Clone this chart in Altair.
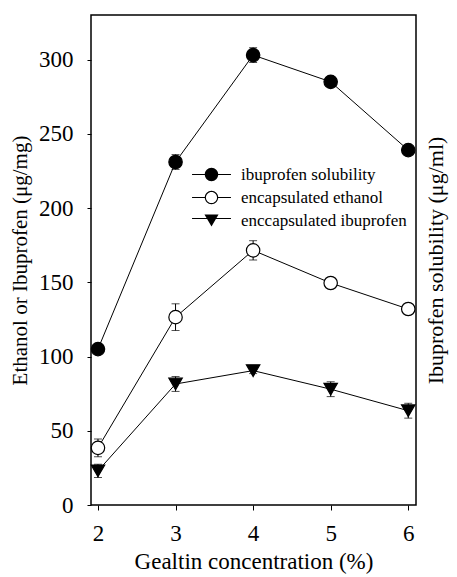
import altair as alt
import pandas as pd

# ---- data ----
conc = [2, 3, 4, 5, 6]
series_names = ["ibuprofen solubility", "encapsulated ethanol", "enccapsulated ibuprofen"]
sol = [105, 231, 303, 285, 239]
sol_err = [2, 5, 5, 2, 2]
eth = [38.5, 126.5, 171.5, 149.5, 132]
eth_err = [6, 9, 6.5, 2, 2]
ibu = [23, 81.5, 90.5, 78, 63.5]
ibu_err = [4.5, 5, 2, 5, 5]
x_ticks = [2, 3, 4, 5, 6]
y_ticks = [0, 50, 100, 150, 200, 250, 300]

rows = []
for name, vals, errs in zip(series_names, [sol, eth, ibu], [sol_err, eth_err, ibu_err]):
    for c, v, e in zip(conc, vals, errs):
        rows.append({"conc": c, "value": v, "lo": v - e, "hi": v + e, "series": name})
df = pd.DataFrame(rows)

FONT = "Liberation Serif"
W, H = 325, 490
xscale = alt.Scale(domain=[1.91, 6.1], nice=False, zero=False)
yscale = alt.Scale(domain=[0, 330], nice=False, zero=False)

base = alt.Chart(df)
x_enc = alt.X("conc:Q", scale=xscale,
              axis=alt.Axis(values=x_ticks, format="d", title="Gealtin concentration (%)",
                            tickSize=5, labelPadding=12, titlePadding=5,
                            labelFont=FONT, titleFont=FONT, labelFontSize=23, titleFontSize=23))
y_enc = alt.Y("value:Q", scale=yscale,
              axis=alt.Axis(values=y_ticks, title="Ethanol or Ibuprofen (\u03bcg/mg)",
                            tickSize=4, labelPadding=14, titlePadding=8,
                            labelFont=FONT, titleFont=FONT, labelFontSize=23, titleFontSize=21))

lines = base.mark_line(color="black", strokeWidth=1).encode(
    x=x_enc, y=y_enc, detail="series:N")
rules = base.mark_rule(color="black", strokeWidth=1).encode(
    x="conc:Q", y="lo:Q", y2="hi:Q")
caps_hi = base.mark_tick(color="black", orient="horizontal", size=8, thickness=1).encode(
    x="conc:Q", y="hi:Q")
caps_lo = base.mark_tick(color="black", orient="horizontal", size=8, thickness=1).encode(
    x="conc:Q", y="lo:Q")

shape_dom = series_names
points = base.mark_point(size=180, stroke="black", strokeWidth=1.2, opacity=1).encode(
    x="conc:Q", y="value:Q",
    shape=alt.Shape("series:N", scale=alt.Scale(domain=shape_dom,
                    range=["circle", "circle", "triangle-down"]), legend=None),
    fill=alt.Fill("series:N", scale=alt.Scale(domain=shape_dom,
                  range=["black", "white", "black"]), legend=None),
)
inner = alt.layer(lines, rules, caps_hi, caps_lo, points)

# legend glyphs drawn as filled outlines (line + marker)
t = 0.08
full_line = f"M -2.9 {-t} L 2.9 {-t} L 2.9 {t} L -2.9 {t} Z "
side_lines = (f"M -2.9 {-t} L -0.95 {-t} L -0.95 {t} L -2.9 {t} Z "
              f"M 0.95 {-t} L 2.9 {-t} L 2.9 {t} L 0.95 {t} Z ")
disc = "M 1 0 A 1 1 0 1 1 -1 0 A 1 1 0 1 1 1 0 Z "
ring_hole = "M 0.83 0 A 0.83 0.83 0 1 0 -0.83 0 A 0.83 0.83 0 1 0 0.83 0 Z"
p_sol = full_line + disc
p_eth = side_lines + disc + ring_hole
p_ibu = f"M -2.9 {-0.3 - t} L 2.9 {-0.3 - t} L 2.9 {-0.3 + t} L -2.9 {-0.3 + t} Z " \
        "M -1.05 -0.9 L 1.05 -0.9 L 0 0.9 Z"

legend_layer = base.transform_filter("false").mark_point(
    size=180, filled=True, color="black", opacity=1, strokeWidth=0).encode(
    x="conc:Q",
    y=alt.Y("value:Q", scale=yscale,
            axis=alt.Axis(orient="right", labels=False, ticks=False, domain=False,
                          title="Ibuprofen solubility (\u03bcg/ml)", titleAngle=270,
                          titlePadding=31, titleFont=FONT, titleFontSize=22)),
    shape=alt.Shape("series:N", scale=alt.Scale(domain=shape_dom, range=[p_sol, p_eth, p_ibu]),
                    legend=alt.Legend(title=None, orient="none", legendX=112, legendY=151,
                                      symbolSize=180, symbolFillColor="black",
                                      symbolStrokeWidth=0, symbolOpacity=1,
                                      labelOffset=21, labelFont=FONT, labelFontSize=17,
                                      labelColor="black", labelLimit=0,
                                      rowPadding=5, padding=0)),
)

chart = alt.layer(inner, legend_layer).resolve_scale(
    y="independent", shape="independent", fill="independent"
).properties(
    width=W, height=H,
    autosize=alt.AutoSizeParams(type="none"),
    padding={"left": 91, "top": 15, "right": 41, "bottom": 72},
    background="white",
).configure(
    font=FONT
).configure_view(
    stroke="black", strokeWidth=1.5
).configure_axis(
    grid=False, domain=False,
    labelFont=FONT, labelColor="black",
    titleFont=FONT, titleColor="black", titleFontWeight="normal",
    tickColor="black", tickWidth=1,
)

chart.save("out.html", embed_options={"renderer": "svg", "actions": False})
